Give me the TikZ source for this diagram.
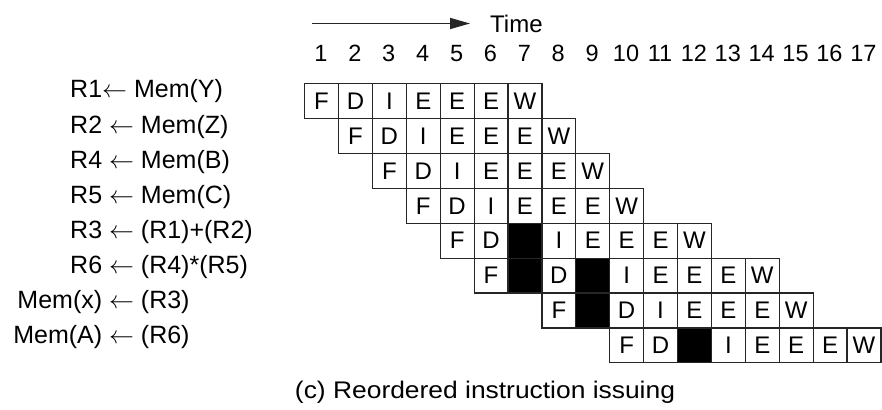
\documentclass[tikz,border=0pt]{standalone}
\usepackage{fontspec}
\setmainfont{Liberation Sans}
\newfontfamily\widefont[FakeStretch=1.1]{Liberation Sans}
\usetikzlibrary{arrows.meta}
\newcommand{\larr}{$\leftarrow$}
\begin{document}
\begin{tikzpicture}[x=1pt,y=-1pt,
  cell/.style={draw=black!85, line width=1.2pt, anchor=north west, minimum width=33.9pt,
    minimum height=34.9pt, inner sep=0pt, font=\fontsize{24}{24}\selectfont},
  lbl/.style={anchor=base west, inner sep=0pt, font=\fontsize{25}{25}\selectfont},
  num/.style={anchor=base, inner sep=0pt, font=\fontsize{23.5}{23.5}\selectfont},
  arr/.style={-{Triangle[length=20pt,width=11pt]}, line width=1.6pt, black!85}]
\useasboundingbox (0,0) rectangle (882,409);
% time arrow
\node[anchor=west, inner sep=0pt, font=\fontsize{24}{24}\selectfont] (time) at (490,23.5) {Time};
\coordinate (arrs) at (312,23.5);
\draw[arr] (arrs) -- ([xshift=-20pt]time.west);
% column numbers
\foreach \k in {1,...,17}
  \node[num] (t\k) at ({304+(\k-0.5)*33.9},62) {\k};
% instruction labels
\node[lbl] (l1) at (12,98)  {\makebox[90pt][r]{R1}\larr\ Mem(Y)};
\node[lbl] (l2) at (12,133) {\makebox[90pt][r]{R2} \larr\ Mem(Z)};
\node[lbl] (l3) at (12,168) {\makebox[90pt][r]{R4} \larr\ Mem(B)};
\node[lbl] (l4) at (12,203) {\makebox[90pt][r]{R5} \larr\ Mem(C)};
\node[lbl] (l5) at (12,238) {\makebox[90pt][r]{R3} \larr\ (R1)+(R2)};
\node[lbl] (l6) at (12,273) {\makebox[90pt][r]{R6} \larr\ (R4)*(R5)};
\node[lbl] (l7) at (12,308) {\makebox[90pt][r]{Mem(x)} \larr\ (R3)};
\node[lbl] (l8) at (12,343) {\makebox[90pt][r]{Mem(A)} \larr\ (R6)};
% pipeline cells
\foreach \r/\c/\seq in {
  1/1/{F/white,D/white,I/white,E/white,E/white,E/white,W/white},
  2/2/{F/white,D/white,I/white,E/white,E/white,E/white,W/white},
  3/3/{F/white,D/white,I/white,E/white,E/white,E/white,W/white},
  4/4/{F/white,D/white,I/white,E/white,E/white,E/white,W/white},
  5/5/{F/white,D/white,{}/black,I/white,E/white,E/white,E/white,W/white},
  6/6/{F/white,{}/black,D/white,{}/black,I/white,E/white,E/white,E/white,W/white},
  7/8/{F/white,{}/black,D/white,I/white,E/white,E/white,E/white,W/white},
  8/10/{F/white,D/white,{}/black,I/white,E/white,E/white,E/white,W/white}}
{
  \foreach \t/\fc [count=\col from \c] in \seq
    \node[cell, fill=\fc] (c\r-\col) at ({304+(\col-1)*33.9},{83+(\r-1)*34.9}) {\t};
}
% caption
\node[anchor=base, inner sep=0pt, font=\widefont\fontsize{24}{24}\selectfont] (cap) at (485,398) {(c) Reordered instruction issuing};
\end{tikzpicture}
\end{document}
